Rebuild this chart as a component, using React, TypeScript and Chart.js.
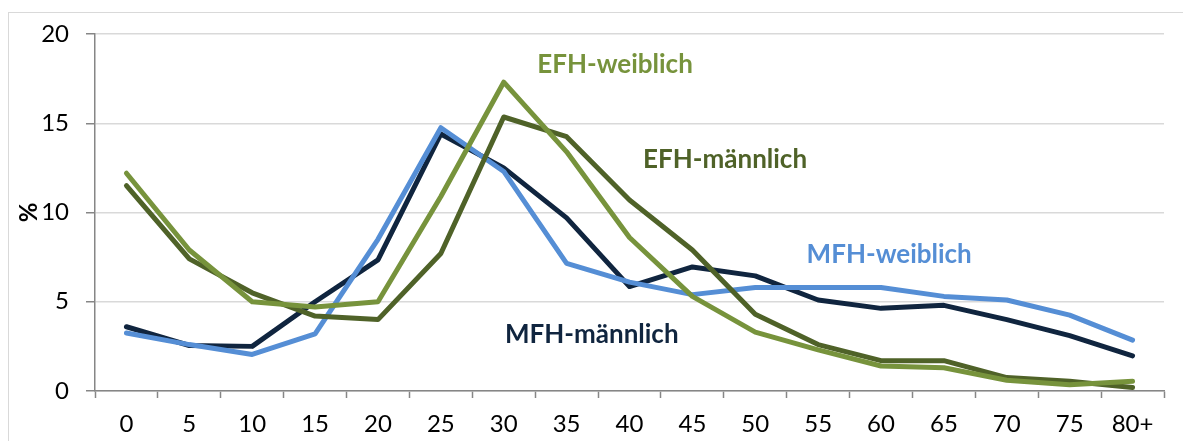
import React, { useEffect, useRef } from "react";
import { Chart, registerables } from "chart.js";

Chart.register(...registerables);

const categories = ["0", "5", "10", "15", "20", "25", "30", "35", "40", "45", "50", "55", "60", "65", "70", "75", "80+"];
const efhWeiblich = [12.2, 7.9, 5.0, 4.7, 5.0, 10.9, 17.3, 13.4, 8.6, 5.3, 3.3, 2.3, 1.4, 1.3, 0.6, 0.35, 0.55];
const efhMaennlich = [11.5, 7.4, 5.5, 4.2, 4.0, 7.7, 15.35, 14.25, 10.7, 7.9, 4.3, 2.6, 1.7, 1.7, 0.75, 0.55, 0.2];
const mfhWeiblich = [3.25, 2.6, 2.05, 3.2, 8.5, 14.75, 12.3, 7.15, 6.1, 5.4, 5.8, 5.8, 5.8, 5.3, 5.1, 4.25, 2.85];
const mfhMaennlich = [3.6, 2.55, 2.5, 5.0, 7.35, 14.4, 12.5, 9.7, 5.85, 6.95, 6.45, 5.1, 4.63, 4.8, 4.0, 3.1, 1.97];
const yTicks = [0, 5, 10, 15, 20];

const seriesNames = ["EFH-weiblich", "EFH-männlich", "MFH-weiblich", "MFH-männlich"];
const seriesColors = ["#77933c", "#4f6228", "#558ed5", "#10253f"];
// label anchors in data space: category index (fractional) and value at text baseline
const labelIndex = [7.77, 9.52, 12.13, 7.4];
const labelValue = [17.8, 12.5, 7.17, 2.69];

const FONT = "Lato, 'Liberation Sans', sans-serif";

const labelPlugin = {
  id: "seriesLabels",
  afterDatasetsDraw(chart: any) {
    const { ctx, scales } = chart;
    ctx.save();
    ctx.font = `bold 26px ${FONT}`;
    ctx.textAlign = "center";
    ctx.textBaseline = "alphabetic";
    seriesNames.forEach((name, i) => {
      const x = scales.x.getPixelForValue(labelIndex[i]);
      const y = scales.y.getPixelForValue(labelValue[i]);
      ctx.fillStyle = seriesColors[i];
      ctx.fillText(name, x, y);
    });
    ctx.restore();
  },
};

export default function App() {
  const ref = useRef<HTMLCanvasElement>(null);
  useEffect(() => {
    if (!ref.current) return;
    const allData = [efhWeiblich, efhMaennlich, mfhWeiblich, mfhMaennlich];
    const chart = new Chart(ref.current, {
      type: "line",
      data: {
        labels: categories,
        datasets: allData.map((d, i) => ({
          label: seriesNames[i],
          data: d,
          borderColor: seriesColors[i],
          backgroundColor: seriesColors[i],
          borderWidth: 5,
          pointRadius: 0,
          pointHoverRadius: 0,
          tension: 0,
          borderCapStyle: "round" as const,
          borderJoinStyle: "round" as const,
          fill: false,
        })),
      },
      options: {
        animation: false,
        responsive: false,
        maintainAspectRatio: false,
        layout: { padding: { top: 21, right: 27, left: 0, bottom: 0 } },
        plugins: {
          legend: { display: false },
          tooltip: { enabled: false },
        },
        scales: {
          x: {
            offset: true,
            grid: {
              offset: true,
              drawOnChartArea: false,
              drawTicks: true,
              tickLength: 7,
              tickColor: "#868686",
              tickWidth: 1.5,
            },
            border: { color: "#868686", width: 1.5 },
            ticks: {
              color: "#000000",
              font: { family: FONT, size: 24 },
              padding: 12,
              maxRotation: 0,
              autoSkip: false,
            },
            afterFit(scale: any) {
              scale.height = 50;
            },
          },
          y: {
            min: 0,
            max: 20,
            afterBuildTicks(scale: any) {
              scale.ticks = yTicks.map((v) => ({ value: v }));
            },
            grid: {
              color: "#d9d9d9",
              lineWidth: 1.5,
              drawTicks: true,
              tickLength: 9,
              tickColor: "#868686",
              tickWidth: 1.5,
            },
            border: { color: "#868686", width: 1.5 },
            ticks: {
              color: "#000000",
              font: { family: FONT, size: 24, lineHeight: 0.3 },
              padding: 17,
            },
            title: {
              display: true,
              text: "%",
              color: "#000000",
              font: { family: FONT, size: 24, weight: "bold" },
              padding: { top: 6, bottom: 0 },
            },
            afterFit(scale: any) {
              scale.width = 86;
            },
          },
        },
      },
      plugins: [labelPlugin],
    });
    return () => chart.destroy();
  }, []);

  return (
    <div style={{ paddingTop: 4 }}>
      <div
        style={{
          border: "1px solid #d9d9d9",
          width: 1190,
          height: 440,
          boxSizing: "border-box",
        }}
      >
        <canvas ref={ref} width={1182} height={428} style={{ display: "block" }} />
      </div>
    </div>
  );
}
